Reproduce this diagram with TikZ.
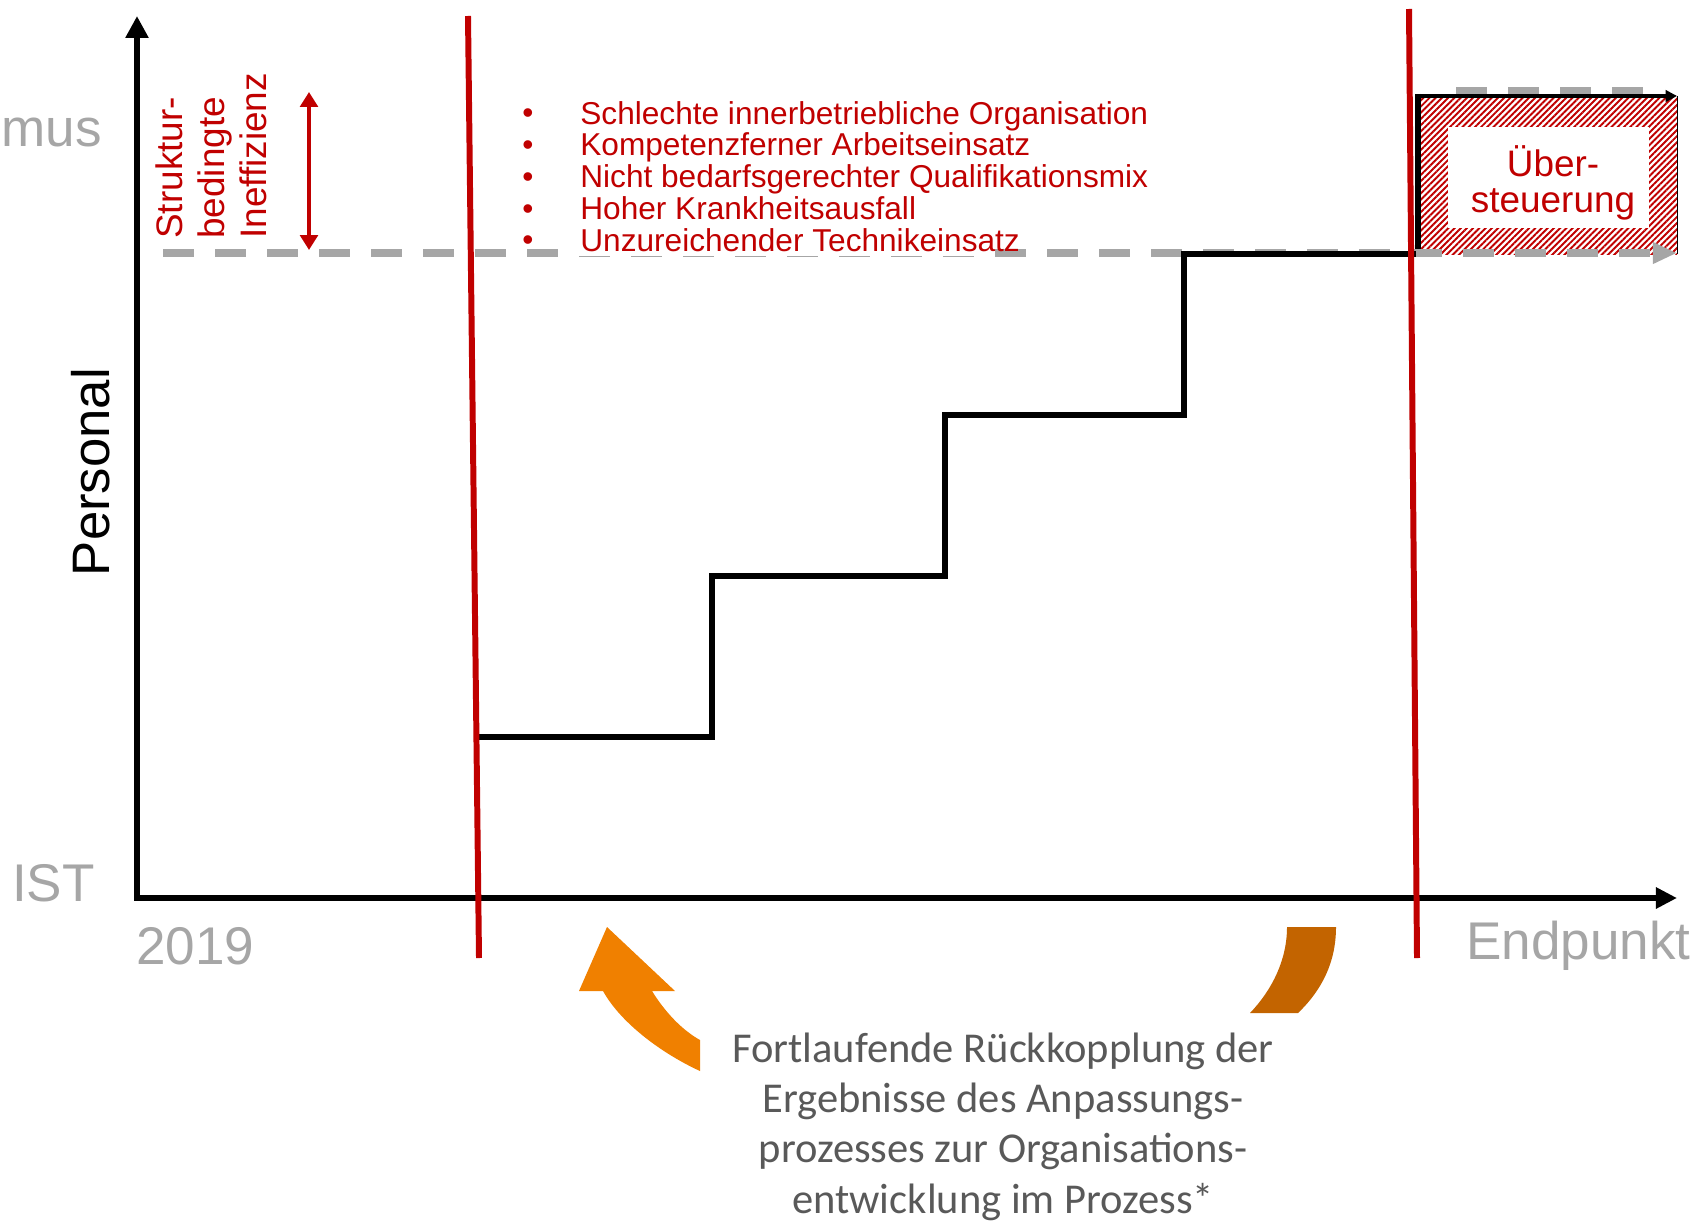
\documentclass[tikz,border=0pt]{standalone}
\usepackage{fontspec}
\setmainfont{Liberation Sans}
\newfontfamily\calibrifont{Carlito}
\usepackage{xcolor}
\usetikzlibrary{arrows.meta,patterns.meta}

\definecolor{dbred}{RGB}{192,0,0}
\definecolor{axisgray}{RGB}{166,166,166}
\definecolor{textgray}{RGB}{89,89,89}
\definecolor{fborange}{RGB}{240,128,0}
\definecolor{fbbrown}{RGB}{195,100,0}

\tikzset{
  graylabel/.style={text=axisgray,inner sep=0pt,font=\fontsize{30.2}{36}\selectfont},
  redtext/.style={text=dbred,inner sep=0pt},
  redmark/.style={draw=dbred,line width=3.4pt},
  stepline/.style={draw=black,line width=3.1pt,line join=miter},
  planline/.style={draw=axisgray,line width=4.7pt,dash pattern=on 17.6pt off 12pt},
}

\begin{document}
\begin{tikzpicture}[x=0.02cm,y=-0.02cm]
  \useasboundingbox (0,0) rectangle (1699,1223);

  % Axes
  \coordinate (ytop) at (137,16);
  \coordinate (origin) at (137,898);
  \coordinate (xend) at (1677,898);
  \draw[line width=3.8pt,line join=miter,{Triangle[length=12.5pt,width=12.5pt]}-{Triangle[length=12pt,width=11.5pt]}]
    (ytop) -- (origin) -- (xend);

  % Overshoot box
  \fill[pattern={Lines[angle=45,distance=2.5pt,line width=1.1pt]},pattern color=dbred]
    (1416,96) rectangle (1677,254);
  \draw[line width=0.6pt] (1677,96) -- (1677,254);
  \fill[white] (1448,127) rectangle (1649,228);
  \node[redtext,align=center,font=\fontsize{21}{20.5}\selectfont] (ueber) at (1553,183) {Über-\\steuerung};
  \draw[planline] (1456,91.5) -- (1650,91.5);
  \draw[line width=2pt,-{Triangle[length=6.5pt,width=6.5pt]}] (1416,96) -- (1677,96);
  \draw[line width=3pt] (1418,94) -- (1418,254);

  % Target level
  \coordinate (planstart) at (163,253);
  \coordinate (planend) at (1677,253);
  \draw[planline,-{Triangle[length=13.7pt,width=11.5pt]}] (planstart) -- (planend);

  % Causes (base = last line)
  \fill[white] (578,244) rectangle (995,255.5);
  \node[redtext,anchor=base west,align=left,
        font=\fontsize{18}{18.04}\selectfont] (causes) at (580,251)
    {Schlechte innerbetriebliche Organisation\\
     Kompetenzferner Arbeitseinsatz\\
     Nicht bedarfsgerechter Qualifikationsmix\\
     Hoher Krankheitsausfall\\
     Unzureichender Technikeinsatz};
  \foreach \i in {0,...,4}
    \node[redtext,anchor=base,font=\fontsize{18}{18}\selectfont] (bullet\i) at (528,124+31.7*\i) {•};

  % Inefficiency
  \node[redtext,rotate=90,anchor=south west,align=left,
        font=\fontsize{21}{23.9}\selectfont] (ineff) at (267,239) {Struktur-\\bedingte\\Ineffizienz};
  \coordinate (ineffhigh) at (309,92);
  \coordinate (innefflow) at (309,250);
  \draw[dbred,line width=2.6pt,{Triangle[length=8.5pt,width=10pt]}-{Triangle[length=8.5pt,width=10pt]}]
    (ineffhigh) -- (innefflow);

  % Steps
  \draw[stepline] (479,737) -- (712,737) -- (712,576) -- (945,576) -- (945,415)
    -- (1184,415) -- (1184,254) -- (1416,254);

  % Phase borders
  \draw[redmark] (468,16) -- (479,958);
  \draw[redmark] (1409,9) -- (1417,958);

  % Axis labels
  \node[graylabel,anchor=base west] (mus) at (1,147) {mus};
  \node[graylabel,anchor=base east] (ist) at (95,901) {IST};
  \node[graylabel,anchor=base west] (start) at (136,964) {2019};
  \node[graylabel,anchor=base west] (end) at (1466,959) {Endpunkt};
  \node[inner sep=0pt,rotate=90,font=\fontsize{30}{36}\selectfont] (personal) at (91,472) {Personal};

  % Feedback arrows
  \fill[fborange] (607,927) -- (675,991) -- (652,991) .. controls (665,1012) and (682,1030) .. (700,1040)
    -- (700,1071) .. controls (665,1055) and (622,1025) .. (603,991) -- (579,991) -- cycle;
  \fill[fbbrown] (1287,927) -- (1336,927) .. controls (1336,962) and (1322,990) .. (1298,1013)
    -- (1250,1013) .. controls (1272,990) and (1287,960) .. (1287,927) -- cycle;

  \node[text=textgray,inner sep=0pt,align=center,anchor=base,
        font=\calibrifont\fontsize{24.2}{28.6}\selectfont] (feedback) at (1003,1213)
    {Fortlaufende Rückkopplung der\\
     Ergebnisse des Anpassungs-\\
     prozesses zur Organisations-\\
     entwicklung im Prozess*};
\end{tikzpicture}
\end{document}
